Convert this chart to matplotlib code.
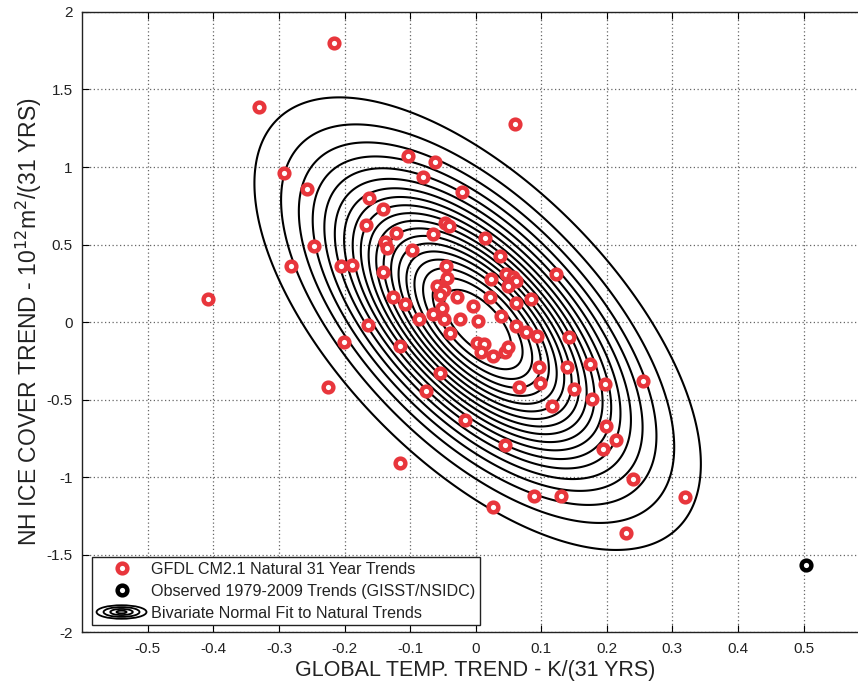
import numpy as np
import matplotlib
matplotlib.use('Agg')
import matplotlib.pyplot as plt
from matplotlib.legend_handler import HandlerBase
from matplotlib.patches import Ellipse
from matplotlib.lines import Line2D

plt.rcParams['font.family'] = ['Liberation Sans', 'DejaVu Sans']
plt.rcParams['axes.unicode_minus'] = False

# ---------------------------------------------------------------
# Data
# ---------------------------------------------------------------
# GFDL CM2.1 natural 31-year trends: (temp trend K/31yr, ice trend 1e12 m2/31yr)
MODEL_X = [
    -0.216, -0.331, 0.060, -0.293, -0.103, -0.062, -0.080, -0.021, -0.258,
    -0.162, -0.142, -0.168, -0.047, -0.040, -0.121, -0.065, 0.014, -0.138,
    -0.136, -0.097, -0.247, 0.037, -0.281, -0.206, -0.189, -0.142, -0.046,
    0.122, -0.044, 0.024, 0.047, 0.057, 0.062, 0.050, -0.059, -0.049,
    -0.054, -0.029, 0.022, 0.062, 0.085, -0.126, -0.108, -0.004, -0.052,
    -0.065, -0.086, -0.049, -0.024, 0.003, 0.038, -0.164, -0.409, 0.062,
    0.076, 0.094, 0.142, -0.039, 0.002, 0.012, 0.008, 0.027, 0.044, 0.049,
    -0.115, -0.201, 0.097, 0.139, 0.175, 0.255, 0.066, 0.098, 0.150, 0.198,
    0.177, 0.116, -0.054, -0.076, -0.225, -0.016, 0.199, 0.214, 0.194,
    0.045, -0.115, 0.240, 0.089, 0.130, 0.320, 0.027, 0.230,
]
MODEL_Y = [
    1.80, 1.39, 1.28, 0.96, 1.07, 1.035, 0.935, 0.837, 0.856,
    0.800, 0.730, 0.628, 0.640, 0.618, 0.575, 0.570, 0.545, 0.516,
    0.479, 0.468, 0.489, 0.425, 0.362, 0.360, 0.371, 0.322, 0.360,
    0.312, 0.286, 0.275, 0.312, 0.290, 0.264, 0.232, 0.232, 0.205,
    0.172, 0.163, 0.160, 0.125, 0.146, 0.160, 0.116, 0.105, 0.090,
    0.052, 0.022, 0.017, 0.018, 0.004, 0.042, -0.016, 0.152, -0.026,
    -0.062, -0.090, -0.095, -0.068, -0.133, -0.143, -0.190, -0.219, -0.190, -0.160,
    -0.152, -0.126, -0.290, -0.290, -0.272, -0.378, -0.420, -0.395, -0.433, -0.401,
    -0.497, -0.543, -0.328, -0.447, -0.418, -0.630, -0.669, -0.759, -0.819,
    -0.792, -0.911, -1.012, -1.120, -1.124, -1.130, -1.194, -1.362,
]

# Observed 1979-2009 trend
OBS_X = [0.504]
OBS_Y = [-1.564]

# Bivariate normal fit parameters
MU_X, MU_Y = 0.003, -0.01
SIG_X, SIG_Y = 0.14, 0.60
RHO = -0.62
# contour levels as fraction of peak density
LEVEL_FRACS = [0.052, 0.101, 0.150, 0.199, 0.248, 0.298, 0.347, 0.396, 0.445,
               0.494, 0.543, 0.592, 0.641, 0.690, 0.740, 0.789, 0.838, 0.887,
               0.936]

X_TICKS = [-0.5, -0.4, -0.3, -0.2, -0.1, 0, 0.1, 0.2, 0.3, 0.4, 0.5]
Y_TICKS = [-2, -1.5, -1, -0.5, 0, 0.5, 1, 1.5, 2]

RED = '#e8363c'
MS, MEW = 7, 3.2


class ContourHandler(HandlerBase):
    """Legend icon: a few concentric ellipses."""
    def create_artists(self, legend, orig_handle, xdescent, ydescent,
                       width, height, fontsize, trans):
        cx = width / 2 - xdescent
        cy = height / 2 - ydescent
        arts = []
        for f in [1.0, 0.72, 0.45, 0.2]:
            e = Ellipse((cx, cy), width * f, height * 1.2 * f,
                        fill=False, edgecolor='black', lw=1.3,
                        transform=trans)
            arts.append(e)
        return arts


def main():
    fig = plt.figure(figsize=(8.58, 6.81), dpi=100)
    ax = fig.add_axes([0.0959, 0.0715, 0.917, 0.911])

    # bivariate normal density on grid
    gx = np.linspace(-0.6, 0.6, 400)
    gy = np.linspace(-2, 2, 400)
    GX, GY = np.meshgrid(gx, gy)
    zx = (GX - MU_X) / SIG_X
    zy = (GY - MU_Y) / SIG_Y
    q = (zx**2 - 2 * RHO * zx * zy + zy**2) / (1 - RHO**2)
    Z = np.exp(-0.5 * q)
    ax.contour(GX, GY, Z, levels=LEVEL_FRACS, colors='black',
               linewidths=1.5, zorder=2)

    ax.plot(MODEL_X, MODEL_Y, 'o', ls='none', ms=MS, mew=MEW,
            mec=RED, mfc='white', zorder=3)
    ax.plot(OBS_X, OBS_Y, 'o', ls='none', ms=MS, mew=MEW,
            mec='black', mfc='white', zorder=3)

    ax.set_xlim(-0.6, 0.6)
    ax.set_ylim(-2, 2)
    ax.set_xticks(X_TICKS)
    ax.set_yticks(Y_TICKS)
    ax.set_xticklabels(['%g' % v for v in X_TICKS])
    ax.set_yticklabels(['%g' % v for v in Y_TICKS])
    ax.tick_params(direction='in', top=True, right=True, length=5,
                   labelsize=11, labelcolor='#222', pad=7)
    ax.grid(True, color='#666', ls=(0, (1, 2)), lw=0.9)
    ax.set_axisbelow(True)
    for s in ax.spines.values():
        s.set_linewidth(1.0)
        s.set_color('#222')

    ax.set_xlabel('GLOBAL TEMP. TREND - K/(31 YRS)', fontsize=15.5,
                  color='#222', labelpad=3)
    ax.set_ylabel(r'NH ICE COVER TREND - 10$^{12}$m$^{2}$/(31 YRS)',
                  fontsize=16.5, color='#222', labelpad=2)

    h1 = Line2D([], [], marker='o', ls='none', ms=MS, mew=MEW,
                mec=RED, mfc='white')
    h2 = Line2D([], [], marker='o', ls='none', ms=MS, mew=MEW,
                mec='black', mfc='white')
    h3 = object()
    leg = ax.legend([h1, h2, h3],
                    ['GFDL CM2.1 Natural 31 Year Trends',
                     'Observed 1979-2009 Trends (GISST/NSIDC)',
                     'Bivariate Normal Fit to Natural Trends'],
                    handler_map={object: ContourHandler()},
                    loc='lower left', bbox_to_anchor=(0.012, 0.011),
                    borderaxespad=0, fontsize=11.6, frameon=True,
                    fancybox=False, framealpha=1, edgecolor='#222',
                    handlelength=3.1, handletextpad=0.3, labelspacing=0.42,
                    borderpad=0.3)
    leg.get_frame().set_linewidth(1.0)
    for t in leg.get_texts():
        t.set_color('#222')

    fig.savefig('out.png', dpi=100)


if __name__ == '__main__':
    main()
